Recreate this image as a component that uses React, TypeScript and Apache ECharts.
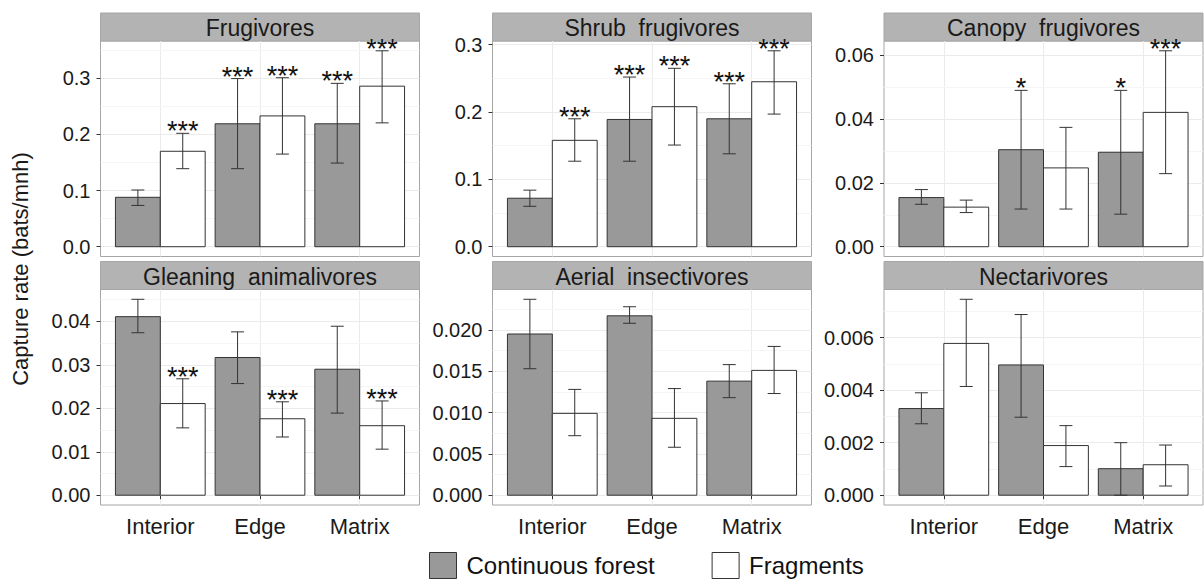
import React, { useEffect, useRef } from 'react';
import * as echarts from 'echarts';

const categories = ['Interior', 'Edge', 'Matrix'];
const panelTitles = [
  'Frugivores',
  'Shrub  frugivores',
  'Canopy  frugivores',
  'Gleaning  animalivores',
  'Aerial  insectivores',
  'Nectarivores',
];
const seriesNames = ['Continuous forest', 'Fragments'];

// Continuous forest: mean, lower and upper error bar ends, per panel (Interior, Edge, Matrix)
const cfMean = [
  [0.088, 0.219, 0.219],
  [0.072, 0.189, 0.19],
  [0.0154, 0.0304, 0.0296],
  [0.0411, 0.0317, 0.029],
  [0.0195, 0.0217, 0.0138],
  [0.0033, 0.00496, 0.00101],
];
const cfLow = [
  [0.0735, 0.139, 0.149],
  [0.06, 0.127, 0.138],
  [0.0133, 0.0118, 0.0102],
  [0.0374, 0.0257, 0.0189],
  [0.0153, 0.0208, 0.0118],
  [0.00272, 0.00297, 0.0],
];
const cfHigh = [
  [0.101, 0.2995, 0.291],
  [0.084, 0.252, 0.242],
  [0.0179, 0.049, 0.049],
  [0.0451, 0.0376, 0.0389],
  [0.0237, 0.0228, 0.0158],
  [0.0039, 0.00688, 0.002],
];
// Fragments
const frMean = [
  [0.17, 0.233, 0.286],
  [0.158, 0.208, 0.245],
  [0.0124, 0.0247, 0.0421],
  [0.0211, 0.0176, 0.016],
  [0.0099, 0.0093, 0.0151],
  [0.00578, 0.00189, 0.00116],
];
const frLow = [
  [0.139, 0.165, 0.2206],
  [0.127, 0.151, 0.197],
  [0.0107, 0.0118, 0.0229],
  [0.0155, 0.0134, 0.0106],
  [0.0072, 0.0058, 0.0123],
  [0.00414, 0.00109, 0.00035],
];
const frHigh = [
  [0.202, 0.301, 0.349],
  [0.19, 0.265, 0.291],
  [0.0146, 0.0374, 0.0614],
  [0.0268, 0.0215, 0.0217],
  [0.0128, 0.0129, 0.018],
  [0.00746, 0.00265, 0.00191],
];
const cfStars = [
  ['', '***', '***'],
  ['', '***', '***'],
  ['', '*', '*'],
  ['', '', ''],
  ['', '', ''],
  ['', '', ''],
];
const frStars = [
  ['***', '***', '***'],
  ['***', '***', '***'],
  ['', '', '***'],
  ['***', '***', '***'],
  ['', '', ''],
  ['', '', ''],
];
const yTicks = [
  [0, 0.1, 0.2, 0.3],
  [0, 0.1, 0.2, 0.3],
  [0, 0.02, 0.04, 0.06],
  [0, 0.01, 0.02, 0.03, 0.04],
  [0, 0.005, 0.01, 0.015, 0.02],
  [0, 0.002, 0.004, 0.006],
];
const yMinorTicks = [
  [0.05, 0.15, 0.25, 0.35],
  [0.05, 0.15, 0.25],
  [0.01, 0.03, 0.05],
  [0.005, 0.015, 0.025, 0.035, 0.045],
  [0.0025, 0.0075, 0.0125, 0.0175, 0.0225],
  [0.001, 0.003, 0.005, 0.007],
];
const yDecimals = [1, 1, 2, 2, 3, 3];
const yTitle = 'Capture rate (bats/mnh)';

const FONT = '"Liberation Sans", Arial, Helvetica, sans-serif';
const CF_COLOR = '#999999';
const FR_COLOR = '#ffffff';
const EDGE = '#333333';
const GRID_MAJOR = '#ebebeb';
const GRID_MINOR = '#f5f5f5';
const BORDER = '#a6a6a6';
const STRIP = '#b3b3b3';

const panelLefts = [100.5, 492.5, 884];
const panelWidth = 319;
const rowTops = [41, 289.5];
const panelHeight = 215.5;
const stripHeight = 28;
const BAR_W = 0.45;
const CAP = 0.065;

function buildOption() {
  const grids: any[] = [];
  const xAxes: any[] = [];
  const yAxes: any[] = [];
  const minorY: any[] = [];
  const series: any[] = [];
  const graphics: any[] = [];

  for (let p = 0; p < 6; p++) {
    const row = Math.floor(p / 3);
    const col = p % 3;
    const left = panelLefts[col];
    const top = rowTops[row];
    grids.push({
      left,
      top,
      width: panelWidth,
      height: panelHeight,
      show: true,
      backgroundColor: '#ffffff',
      borderColor: BORDER,
      borderWidth: 1,
      containLabel: false,
    });
    const bottomRow = row === 1;
    xAxes.push({
      type: 'value',
      gridIndex: p,
      min: 0.4,
      max: 3.6,
      axisLine: { show: false },
      axisTick: {
        show: bottomRow,
        length: 4,
        customValues: [1, 2, 3],
        lineStyle: { color: EDGE },
      },
      axisLabel: {
        show: bottomRow,
        customValues: [1, 2, 3],
        formatter: (v: number) => categories[Math.round(v) - 1] || '',
        fontSize: 22,
        fontFamily: FONT,
        color: '#1a1a1a',
        margin: 10,
      },
      splitLine: { show: true, lineStyle: { color: GRID_MAJOR, width: 1 } },
      minorSplitLine: { show: false },
    });
    const maxHi = Math.max(...cfHigh[p], ...frHigh[p], ...cfMean[p], ...frMean[p]);
    const range = maxHi;
    const yMin = -0.05 * range;
    const yMax = maxHi + 0.05 * range;
    const dec = yDecimals[p];
    yAxes.push({
      type: 'value',
      gridIndex: p,
      position: 'left',
      min: yMin,
      max: yMax,
      axisLine: { show: false },
      axisTick: {
        show: true,
        length: 4,
        customValues: yTicks[p],
        lineStyle: { color: EDGE },
      },
      axisLabel: {
        show: true,
        customValues: yTicks[p],
        formatter: (v: number) => v.toFixed(dec),
        fontSize: 20,
        fontFamily: FONT,
        color: '#1a1a1a',
        margin: 10,
      },
      splitLine: { show: true, lineStyle: { color: GRID_MAJOR, width: 1 } },
      z: 2,
    });
    minorY.push({
      type: 'value',
      gridIndex: p,
      position: 'right',
      min: yMin,
      max: yMax,
      axisLine: { show: false },
      axisTick: { show: false, customValues: yMinorTicks[p] },
      axisLabel: { show: false, customValues: yMinorTicks[p] },
      splitLine: { show: true, lineStyle: { color: GRID_MINOR, width: 1 } },
      z: 1,
    });

    const makeBars = (name: string, means: number[], offset: number, fill: string) => ({
      type: 'custom',
      name,
      xAxisIndex: p,
      yAxisIndex: p,
      itemStyle: { color: fill, borderColor: EDGE, borderWidth: 1 },
      data: categories.map((_, i) => [i + 1, means[i]]),
      z: 3,
      renderItem: (params: any, api: any) => {
        const x = api.value(0) + offset;
        const v = api.value(1);
        const a = api.coord([x, v]);
        const b = api.coord([x + BAR_W, 0]);
        return {
          type: 'rect',
          shape: { x: a[0], y: a[1], width: b[0] - a[0], height: b[1] - a[1] },
          style: { fill, stroke: EDGE, lineWidth: 1 },
        };
      },
    });
    series.push(makeBars(seriesNames[0], cfMean[p], -BAR_W, CF_COLOR));
    series.push(makeBars(seriesNames[1], frMean[p], 0, FR_COLOR));

    const errData: number[][] = [];
    const errStars: string[] = [];
    categories.forEach((_, i) => {
      errData.push([i + 1 - BAR_W / 2, cfLow[p][i], cfHigh[p][i]]);
      errStars.push(cfStars[p][i]);
      errData.push([i + 1 + BAR_W / 2, frLow[p][i], frHigh[p][i]]);
      errStars.push(frStars[p][i]);
    });
    series.push({
      type: 'custom',
      name: 'error',
      xAxisIndex: p,
      yAxisIndex: p,
      data: errData,
      z: 4,
      renderItem: (params: any, api: any) => {
        const x = api.value(0);
        const lo = api.value(1);
        const hi = api.value(2);
        const t = api.coord([x, hi]);
        const b = api.coord([x, lo]);
        const tl = api.coord([x - CAP, hi]);
        const tr = api.coord([x + CAP, hi]);
        const bl = api.coord([x - CAP, lo]);
        const br = api.coord([x + CAP, lo]);
        const st = { stroke: EDGE, lineWidth: 1 };
        const children: any[] = [
          { type: 'line', shape: { x1: t[0], y1: t[1], x2: b[0], y2: b[1] }, style: st },
          { type: 'line', shape: { x1: tl[0], y1: tl[1], x2: tr[0], y2: tr[1] }, style: st },
          { type: 'line', shape: { x1: bl[0], y1: bl[1], x2: br[0], y2: br[1] }, style: st },
        ];
        const star = errStars[params.dataIndex];
        if (star) {
          children.push({
            type: 'text',
            x: t[0],
            y: t[1] - 2,
            z2: 20,
            style: {
              text: star,
              fontSize: 27,
              fontFamily: FONT,
              fill: '#111111',
              align: 'center',
              verticalAlign: 'middle',
            },
          });
        }
        return { type: 'group', children };
      },
    });

    const stripTop = row === 0 ? 13 : 261.5;
    graphics.push({
      type: 'rect',
      shape: { x: left, y: stripTop, width: panelWidth, height: stripHeight },
      style: { fill: STRIP, stroke: BORDER, lineWidth: 1 },
      z: 0,
    });
    graphics.push({
      type: 'text',
      x: left + panelWidth / 2,
      y: stripTop + stripHeight / 2 + 1,
      style: {
        text: panelTitles[p],
        fontSize: 23,
        fontFamily: FONT,
        fill: '#1a1a1a',
        align: 'center',
        verticalAlign: 'middle',
      },
      z: 1,
    });
  }

  graphics.push({
    type: 'text',
    x: 20,
    y: 269,
    rotation: Math.PI / 2,
    style: {
      text: yTitle,
      fontSize: 22,
      fontFamily: FONT,
      fill: '#1a1a1a',
      align: 'center',
      verticalAlign: 'middle',
    },
  });

  return {
    animation: false,
    backgroundColor: '#ffffff',
    textStyle: { fontFamily: FONT },
    grid: grids,
    xAxis: xAxes,
    yAxis: [...yAxes, ...minorY],
    legend: {
      left: 429,
      top: 552,
      padding: 0,
      itemWidth: 27,
      itemHeight: 26,
      itemGap: 57,
      icon: 'rect',
      selectedMode: false,
      textStyle: { fontSize: 24, fontFamily: FONT, color: '#111111', padding: [0, 0, 0, 5] },
      data: [
        { name: seriesNames[0], itemStyle: { color: CF_COLOR, borderColor: EDGE, borderWidth: 1 } },
        { name: seriesNames[1], itemStyle: { color: FR_COLOR, borderColor: EDGE, borderWidth: 1 } },
      ],
    },
    graphic: graphics,
    series,
  };
}

export default function App() {
  const ref = useRef<HTMLDivElement>(null);
  useEffect(() => {
    if (!ref.current) return;
    const chart = echarts.init(ref.current, undefined, { renderer: 'svg' });
    chart.setOption(buildOption() as any);
    return () => chart.dispose();
  }, []);
  return (
    <div
      ref={ref}
      style={{ position: 'absolute', left: 0, top: 0, width: 1204, height: 579 }}
    />
  );
}
